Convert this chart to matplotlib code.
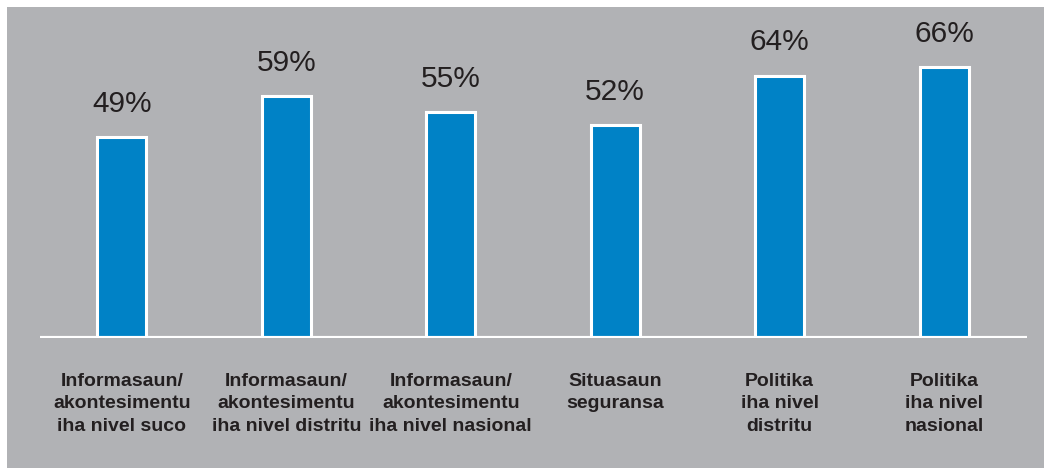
import matplotlib
matplotlib.use("Agg")
import matplotlib.pyplot as plt
from matplotlib.patches import Rectangle

# data
categories = [
    "Informasaun/\nakontesimentu\niha nivel suco",
    "Informasaun/\nakontesimentu\niha nivel distritu",
    "Informasaun/\nakontesimentu\niha nivel nasional",
    "Situasaun\nseguransa",
    "Politika\niha nivel\ndistritu",
    "Politika\niha nivel\nnasional",
]
values = [49, 59, 55, 52, 64, 66]

GRAY = "#b1b2b5"
BLUE = "#0082c6"
TEXT = "#231f20"

W, H = 1044, 468
fig = plt.figure(figsize=(W / 100, H / 100), dpi=100, facecolor="white")

# gray panel with a thin white strip on top and left
fig.patches.append(Rectangle((7 / W, 0), 1 - 7 / W, 1 - 7 / H, transform=fig.transFigure,
                             facecolor=GRAY, edgecolor="none", zorder=-1))

ax = fig.add_axes([40 / W, (H - 338) / H, 987 / W, 328 / H])
ax.set_facecolor("none")
ax.set_zorder(1)

x = list(range(len(values)))
ax.bar(x, values, width=0.298, color=BLUE, edgecolor="white", linewidth=2.2, zorder=2)
ax.axhline(0, color="white", linewidth=3, zorder=3)

for xi, v in zip(x, values):
    ax.text(xi, v + 8.1, f"{v}%", ha="center", va="center", fontsize=21.5,
            family="Liberation Sans", color=TEXT)

for xi, lab in zip(x, categories):
    ax.annotate(lab, (xi, 0), xytext=(0, -25), textcoords="offset points",
                ha="center", va="top", fontsize=14, fontweight="bold",
                family="Liberation Sans", color=TEXT, linespacing=1.42,
                annotation_clip=False)

ax.set_xlim(-0.4985, 5.5046)
ax.set_ylim(0, 80)
ax.axis("off")

fig.savefig("out.png", dpi=100, facecolor="white")
